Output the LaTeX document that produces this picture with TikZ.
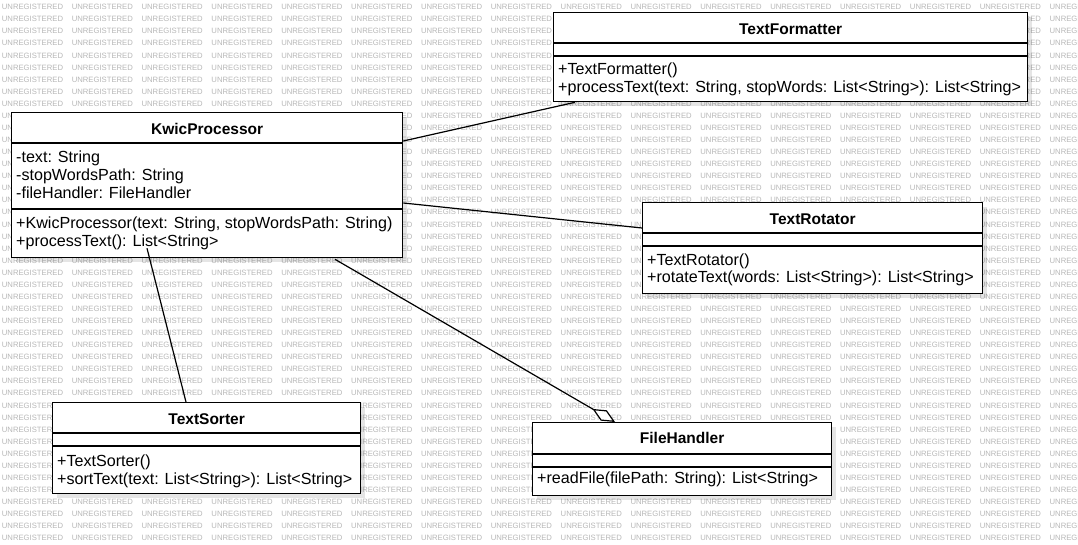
\documentclass[tikz,border=0pt]{standalone}
\usepackage{fontspec}
\setmainfont{Liberation Sans}
\usetikzlibrary{arrows.meta,shadows}

\begin{document}
\begin{tikzpicture}[x=1pt,y=1pt,
  classbox/.style={draw=black, line width=1.3pt, fill=white, rectangle, inner sep=0pt, anchor=north west,
    drop shadow={shadow xshift=4pt, shadow yshift=-4pt, fill=black, opacity=0.10}},
  ctitle/.style={font=\fontsize{15.5}{18}\selectfont\bfseries, anchor=base, inner sep=0pt},
  member/.style={font=\fontsize{16.1}{18}\selectfont, anchor=base west, inner sep=0pt},
  sepline/.style={line width=1.3pt},
  assoc/.style={line width=1.2pt},
  wmark/.style={font=\fontsize{7.7}{8}\selectfont, text=black!28, anchor=base west, inner sep=0pt}]

\useasboundingbox (0,0) rectangle (1078,-545);
\fill[white] (0,0) rectangle (1078,-545);

% watermark
\begin{scope}
\clip (0,0) rectangle (1078,-545);
\foreach \r in {0,...,45} {
  \foreach \c in {0,...,15} {
    \node[wmark] (wm-\r-\c) at ({1.7+69.85*\c},{-(9.75+12.07*\r)}) {UNREGISTERED};
  }
}
\end{scope}

% class boxes
\node[classbox, minimum width=474pt, minimum height=89pt] (tf) at (553,-12) {};
\node[classbox, minimum width=391pt, minimum height=145pt] (kp) at (11,-112) {};
\node[classbox, minimum width=340pt, minimum height=91pt] (tr) at (642,-202) {};
\node[classbox, minimum width=299pt, minimum height=73pt] (fh) at (532,-422) {};
\node[classbox, minimum width=308pt, minimum height=91pt] (ts) at (52,-402) {};

% separators
\draw[sepline] ([yshift=-31pt]tf.north west) -- ([yshift=-31pt]tf.north east);
\draw[sepline] ([yshift=-44pt]tf.north west) -- ([yshift=-44pt]tf.north east);
\draw[sepline] ([yshift=-31pt]kp.north west) -- ([yshift=-31pt]kp.north east);
\draw[sepline] ([yshift=-97pt]kp.north west) -- ([yshift=-97pt]kp.north east);
\draw[sepline] ([yshift=-31pt]tr.north west) -- ([yshift=-31pt]tr.north east);
\draw[sepline] ([yshift=-44pt]tr.north west) -- ([yshift=-44pt]tr.north east);
\draw[sepline] ([yshift=-32pt]fh.north west) -- ([yshift=-32pt]fh.north east);
\draw[sepline] ([yshift=-45pt]fh.north west) -- ([yshift=-45pt]fh.north east);
\draw[sepline] ([yshift=-31pt]ts.north west) -- ([yshift=-31pt]ts.north east);
\draw[sepline] ([yshift=-44pt]ts.north west) -- ([yshift=-44pt]ts.north east);

% titles
\node[ctitle] (tf-title) at ([yshift=-22.3pt]tf.north) {TextFormatter};
\node[ctitle] (kp-title) at ([yshift=-22.3pt]kp.north) {KwicProcessor};
\node[ctitle] (tr-title) at ([yshift=-22.3pt]tr.north) {TextRotator};
\node[ctitle] (fh-title) at ([yshift=-21.5pt]fh.north) {FileHandler};
\node[ctitle] (ts-title) at ([yshift=-22.3pt]ts.north) {TextSorter};

% members
\node[member] (tf-m1) at ([xshift=5pt,yshift=-63pt]tf.north west) {+TextFormatter()};
\node[member] (tf-m2) at ([xshift=5pt,yshift=-80.5pt]tf.north west) {+processText(text: String, stopWords: List<String>): List<String>};

\node[member] (kp-a1) at ([xshift=5pt,yshift=-51pt]kp.north west) {-text: String};
\node[member] (kp-a2) at ([xshift=5pt,yshift=-69pt]kp.north west) {-stopWordsPath: String};
\node[member] (kp-a3) at ([xshift=5pt,yshift=-87pt]kp.north west) {-fileHandler: FileHandler};
\node[member] (kp-m1) at ([xshift=5pt,yshift=-117pt]kp.north west) {+KwicProcessor(text: String, stopWordsPath: String)};
\node[member] (kp-m2) at ([xshift=5pt,yshift=-135pt]kp.north west) {+processText(): List<String>};

\node[member] (tr-m1) at ([xshift=5pt,yshift=-63.5pt]tr.north west) {+TextRotator()};
\node[member] (tr-m2) at ([xshift=5pt,yshift=-81pt]tr.north west) {+rotateText(words: List<String>): List<String>};

\node[member] (fh-m1) at ([xshift=5pt,yshift=-61pt]fh.north west) {+readFile(filePath: String): List<String>};

\node[member] (ts-m1) at ([xshift=5pt,yshift=-64.5pt]ts.north west) {+TextSorter()};
\node[member] (ts-m2) at ([xshift=5pt,yshift=-82.5pt]ts.north west) {+sortText(text: List<String>): List<String>};

% connectors
\draw[assoc] ([yshift=-29pt]kp.north east) -- ([xshift=22pt]tf.south west);
\draw[assoc] ([yshift=-91pt]kp.north east) -- ([yshift=-26pt]tr.north west);
\draw[assoc] ([xshift=136pt,yshift=10pt]kp.south west) -- ([xshift=134pt]ts.north west);
\draw[assoc, -{Diamond[length=26pt, width=12pt, fill=white]}] ([xshift=324pt,yshift=-1pt]kp.south west) -- ([xshift=83pt]fh.north west);

\end{tikzpicture}
\end{document}
